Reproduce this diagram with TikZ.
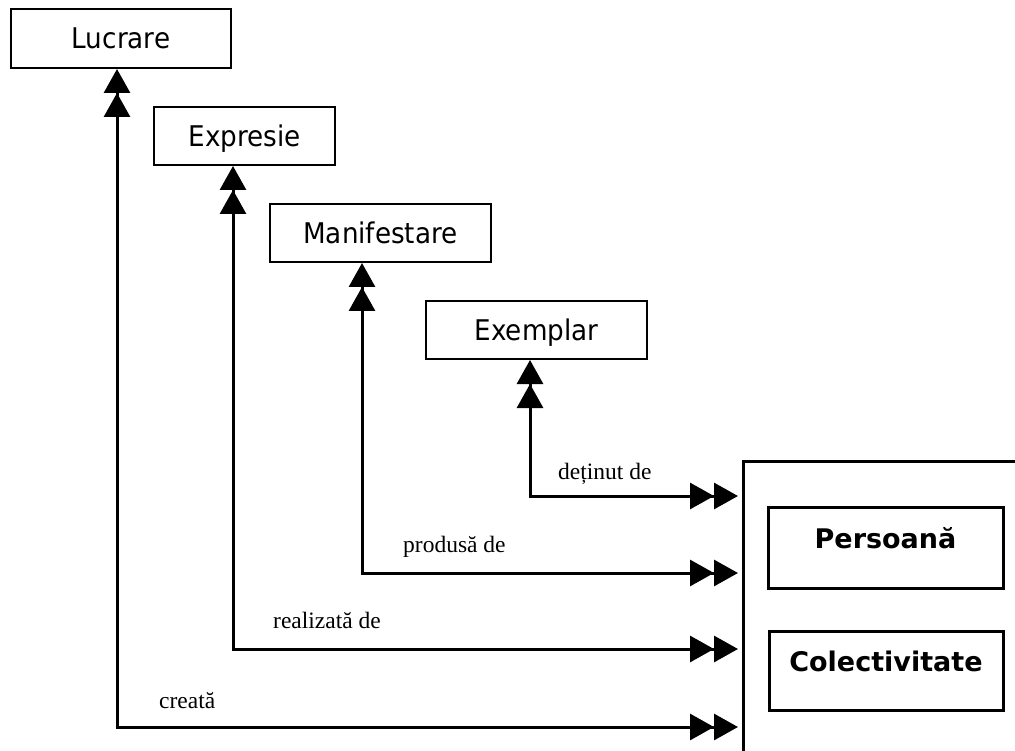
\documentclass[tikz,border=0pt]{standalone}
\usepackage{fontspec}
\setmainfont{Liberation Serif}
\newfontfamily\boxfont[FakeStretch=0.92]{DejaVu Sans}
\newfontfamily\subfont{DejaVu Sans}
\usetikzlibrary{arrows.meta}
\tikzset{
  x=1pt, y=-1pt,
  ent/.style={draw, line width=2pt, inner sep=0pt, text height=20.5pt, text depth=0pt,
    font=\boxfont\fontsize{28.5}{32}\selectfont},
  sub/.style={draw, line width=3pt, inner sep=0pt, text depth=19pt,
    font=\subfont\bfseries\fontsize{27}{30}\selectfont},
  big/.style={draw, line width=3pt, inner sep=0pt, minimum width=340pt, minimum height=340pt, anchor=north west},
  conn/.style={line width=3pt, shorten >=4pt,
    {Triangle[length=24pt,width=26pt,sep=0pt]Triangle[length=24pt,width=26pt,sep=0pt]}-{Triangle[length=24pt,width=26pt,sep=0pt]Triangle[length=24pt,width=26pt,sep=0pt]}},
  lbl/.style={anchor=base west, inner sep=0pt, font=\fontsize{23.5}{28}\selectfont}
}
\begin{document}
\begin{tikzpicture}
\useasboundingbox (0,0) rectangle (1015,751);
\clip (0,0) rectangle (1015,751);
\node[ent, minimum width=220pt, minimum height=59pt] (luc) at (121,38.5) {Lucrare};
\node[ent, minimum width=181pt, minimum height=58pt] (exp) at (244.5,136) {Expresie};
\node[ent, minimum width=221pt, minimum height=58pt] (man) at (380.5,233) {Manifestare};
\node[ent, minimum width=221pt, minimum height=58pt] (exe) at (536.5,330) {Exemplar};
\node[big] (grp) at (742,460) {};
\node[sub, minimum width=235pt, minimum height=81pt] (pers) at (885.5,547.5) {Persoană};
\node[sub, minimum width=234pt, minimum height=79pt] (col) at (886,670.5) {Colectivitate};
\coordinate (c1) at (117,727);
\coordinate (c2) at (233,649);
\coordinate (c3) at (362,573);
\coordinate (c4) at (530,496);
\draw[conn] (luc.south -| c1) -- (c1) -- (c1 -| grp.west);
\draw[conn] (exp.south -| c2) -- (c2) -- (c2 -| grp.west);
\draw[conn] (man.south -| c3) -- (c3) -- (c3 -| grp.west);
\draw[conn] (exe.south -| c4) -- (c4) -- (c4 -| grp.west);
\node[lbl] (l4) at (558,479) {deținut de};
\node[lbl] (l3) at (403,552) {produsă de};
\node[lbl] (l2) at (273,628) {realizată de};
\node[lbl] (l1) at (159,708) {creată};
\end{tikzpicture}
\end{document}
